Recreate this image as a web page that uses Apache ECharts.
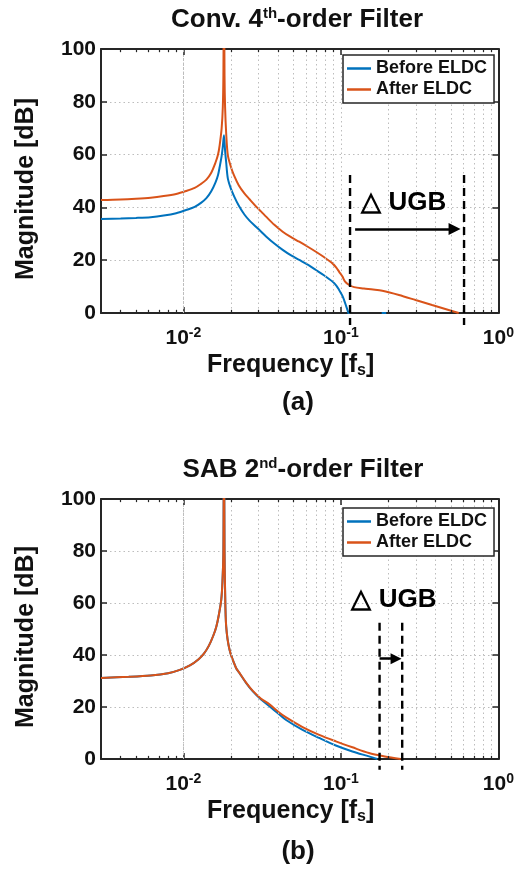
<!DOCTYPE html>
<html><head><meta charset="utf-8">
<script src="https://cdn.jsdelivr.net/npm/echarts@6/dist/echarts.min.js"></script>
<style>html,body{margin:0;padding:0;background:#fff}#c{width:517px;height:875px}</style>
</head><body><div id="c"></div>
<script>
const FONT = '"Liberation Sans", Arial, Helvetica, sans-serif';
const seriesNames = ['Before ELDC', 'After ELDC'];
const colors = ['#0072BD', '#D95319'];
const xRange = [0.003, 1];
const yRange = [0, 100];
const yStep = 20;
const minorX = [0.004,0.005,0.006,0.007,0.008,0.009,0.02,0.03,0.04,0.05,0.06,0.07,0.08,0.09,0.2,0.3,0.4,0.5,0.6,0.7,0.8,0.9];

// (a) Conv. 4th-order filter
const convBefore = [[0.003,35.6],[0.004,35.8],[0.005,36.0],[0.0062,36.3],[0.0075,36.9],[0.009,37.8],[0.0104,39.0],[0.0118,40.2],[0.013,41.8],[0.014,43.5],[0.015,46.0],[0.016,49.5],[0.0166,52.3],[0.017,55.3],[0.0175,59.5],[0.0178,63],[0.0181,67.3],[0.0184,61.5],[0.0187,57],[0.01915,51],[0.020,47.2],[0.021,44.2],[0.0225,40.6],[0.0244,37.3],[0.0263,35.0],[0.029,32.6],[0.0312,30.8],[0.0335,29.0],[0.0378,26.3],[0.0427,23.9],[0.048,21.9],[0.0544,20.1],[0.062,18.2],[0.0694,16.3],[0.078,14.3],[0.0884,11.9],[0.0935,10.4],[0.0975,8.7],[0.1023,6.5],[0.1048,4.9],[0.108,2.6],[0.1116,0],[0.113,-1.5],[0.15,'-'],[0.1815,0],[0.194,0]];
const convAfter = [[0.003,42.8],[0.004,43.0],[0.005,43.3],[0.0062,43.7],[0.0075,44.3],[0.009,45.1],[0.0104,46.2],[0.0118,47.4],[0.013,49.0],[0.014,50.5],[0.015,53],[0.016,57],[0.0166,60],[0.017,63.6],[0.0175,70],[0.0178,78],[0.01795,90],[0.0181,130],[0.01825,90],[0.0184,78],[0.0187,68],[0.01915,59.8],[0.020,55.5],[0.021,52],[0.0225,48.3],[0.0244,45.3],[0.0263,43.1],[0.029,40.3],[0.0312,38.4],[0.0335,36.5],[0.0378,33.4],[0.0427,30.8],[0.048,28.8],[0.0544,27.0],[0.062,25.0],[0.0694,23.2],[0.078,21.2],[0.0884,18.8],[0.0935,17.2],[0.0975,15.6],[0.1023,13.8],[0.106,12.0],[0.1127,10.6],[0.1213,9.8],[0.14,9.3],[0.16,8.9],[0.1831,8.4],[0.2336,6.8],[0.298,4.9],[0.379,3.0],[0.46,1.5],[0.5595,0]];
const convUGB = [0.1143, 0.605];
const convUGBSpan = [52.3, -4.5];
const convArrow = [[0.1231, 31.8], [0.5265, 31.8]];
const convLabelAt = [0.251, 41.7];

// (b) SAB 2nd-order filter
const sabBefore = [[0.003,31.2],[0.0045,31.6],[0.0062,32.1],[0.008,33.0],[0.0095,34.3],[0.011,36.0],[0.0125,38.4],[0.0135,40.5],[0.0145,43.5],[0.0155,47.5],[0.0162,51],[0.0168,55.5],[0.0174,61.3],[0.0177,68],[0.01795,80],[0.0181,130],[0.01825,80],[0.0184,65],[0.0187,51],[0.01964,42],[0.0216,35],[0.0227,33.1],[0.025,29.3],[0.0276,26.0],[0.031,23.0],[0.0352,20.3],[0.040,17.5],[0.0449,15.0],[0.0571,11.2],[0.0728,8.1],[0.0929,5.2],[0.1183,2.9],[0.1508,1.0],[0.1702,0]];
const sabAfter = [[0.003,31.2],[0.0045,31.6],[0.0062,32.1],[0.008,33.0],[0.0095,34.3],[0.011,36.0],[0.0125,38.4],[0.0135,40.5],[0.0145,43.5],[0.0155,47.5],[0.0162,51],[0.0168,55.5],[0.0174,61.3],[0.0177,68],[0.01795,80],[0.0181,130],[0.01825,80],[0.0184,65],[0.0187,51],[0.01964,42],[0.0216,35],[0.0227,33.1],[0.025,29.4],[0.0276,26.2],[0.031,23.3],[0.0352,21.0],[0.040,18.2],[0.0449,16.0],[0.0571,12.3],[0.0728,9.3],[0.0929,6.8],[0.1183,4.5],[0.1508,2.3],[0.19,1.0],[0.2393,0]];
const sabUGB = [0.176, 0.245];
const sabUGBSpan = [52.4, -4.1];
const sabArrow = [[0.176, 38.6], [0.224, 38.6]];
const sabLabelAt = [0.2172, 61.3];

const AX = '#262626', GRID = '#bdbdbd', TXT = '#111';

function xFmt(v) {
  const l = Math.log10(v), e = Math.round(l);
  if (Math.abs(l - e) > 1e-6) return '';
  return '{b|10}{s|' + e + '}';
}
function xAxes(gi) {
  const common = {type:'log', logBase:10, gridIndex:gi, min:xRange[0], max:xRange[1]};
  return [
    Object.assign({}, common, {position:'bottom',
      axisLine:{show:true, onZero:false, lineStyle:{color:AX, width:2}},
      axisTick:{show:true, inside:true, length:6, lineStyle:{color:AX, width:1.5}},
      axisLabel:{show:true, margin:13, formatter:xFmt, showMinLabel:false,
        rich:{b:{fontFamily:FONT, fontSize:21, fontWeight:'bold', color:TXT, lineHeight:24},
              s:{fontFamily:FONT, fontSize:14, fontWeight:'bold', color:TXT, lineHeight:14, verticalAlign:'top'}}},
      splitLine:{show:true, lineStyle:{color:GRID, type:[1.5,3], width:1}},
      name:'{a|Frequency [f}{sub|s}{a|]}', nameLocation:'middle', nameGap:38,
      nameTextStyle:{padding:[0,18,0,0], rich:{a:{fontFamily:FONT, fontSize:25, fontWeight:'bold', color:TXT, lineHeight:28},
                           sub:{fontFamily:FONT, fontSize:16, fontWeight:'bold', color:TXT, lineHeight:16, verticalAlign:'bottom'}}}
    }),
    Object.assign({}, common, {position:'top',
      axisLine:{show:true, onZero:false, lineStyle:{color:AX, width:2}},
      axisTick:{show:true, inside:true, length:6, lineStyle:{color:AX, width:1.5}},
      axisLabel:{show:false}, splitLine:{show:false}})
  ];
}
function yAxes(gi) {
  const common = {type:'value', gridIndex:gi, min:yRange[0], max:yRange[1], interval:yStep};
  return [
    Object.assign({}, common, {position:'left',
      axisLine:{show:true, onZero:false, lineStyle:{color:AX, width:2}},
      axisTick:{show:true, inside:true, length:6, lineStyle:{color:AX, width:1.5}},
      axisLabel:{show:true, margin:5, fontFamily:FONT, fontSize:21, fontWeight:'bold', color:TXT},
      splitLine:{show:true, lineStyle:{color:GRID, type:[1.5,3], width:1}},
      name:'Magnitude [dB]', nameLocation:'middle', nameGap:62, nameRotate:90,
      nameTextStyle:{fontFamily:FONT, fontSize:25, fontWeight:'bold', color:TXT, padding:[0,16,0,0]}
    }),
    Object.assign({}, common, {position:'right',
      axisLine:{show:true, onZero:false, lineStyle:{color:AX, width:2}},
      axisTick:{show:true, inside:true, length:6, lineStyle:{color:AX, width:1.5}},
      axisLabel:{show:false}, splitLine:{show:false}})
  ];
}
function panelSeries(xi, yi, before, after, ugb, span, arrow, labelAt, arrowSize) {
  const ticks = [];
  minorX.forEach(v => {
    ticks.push([{coord:[v, yRange[0]]}, {coord:[v, 1.2]}]);
    ticks.push([{coord:[v, yRange[1]]}, {coord:[v, 98.8]}]);
  });
  const base = {type:'line', xAxisIndex:xi, yAxisIndex:yi, symbol:'none', showSymbol:false, silent:true, animation:false};
  const dashed = ugb.map(x => Object.assign({}, base, {
    data:[[x, span[0]], [x, span[1]]], clip:false, z:6,
    lineStyle:{color:'#000', width:2.4, type:[8,5]}
  }));
  dashed[0].markLine = {silent:true, symbol:['none','triangle'], symbolSize:arrowSize, animation:false,
    label:{show:false}, lineStyle:{color:'#000', width:2.5, type:'solid'},
    data:[[{coord:arrow[0]}, {coord:arrow[1]}]]};
  dashed[0].markPoint = {silent:true, symbol:'circle', symbolSize:1, animation:false,
    itemStyle:{color:'rgba(0,0,0,0)'},
    label:{show:true, position:'inside', formatter:'△ UGB', fontFamily:FONT, fontSize:26, fontWeight:'bold', color:'#000'},
    data:[{coord:labelAt}]};
  const curve = {smooth:0.3, z:3};
  return [
    Object.assign({}, base, {data:[], z:1, markLine:{silent:true, symbol:['none','none'], animation:false,
      label:{show:false}, lineStyle:{color:GRID, type:[1.5,3], width:1}, data:minorX.map(v => ({xAxis:v}))}}),
    Object.assign({}, base, {data:[], z:1, markLine:{silent:true, symbol:['none','none'], animation:false,
      label:{show:false}, lineStyle:{color:AX, type:'solid', width:1.2}, data:ticks}}),
    Object.assign({}, base, curve, {name:seriesNames[0], data:before, lineStyle:{color:colors[0], width:2}, itemStyle:{color:colors[0]}}),
    Object.assign({}, base, curve, {name:seriesNames[1], data:after, z:4, lineStyle:{color:colors[1], width:2}, itemStyle:{color:colors[1]}})
  ].concat(dashed);
}
function legend(top) {
  return {data:seriesNames, left:343, top:top, orient:'vertical', icon:'rect', itemWidth:24, itemHeight:2.5, itemGap:0,
    padding:[3,7,3,4], borderColor:AX, borderWidth:1.5, backgroundColor:'#fff', z:10, selectedMode:false,
    textStyle:{fontFamily:FONT, fontSize:18, fontWeight:'bold', color:TXT, lineHeight:21}};
}
function title(text, rich, x, top) {
  return {text:text, left:x, top:top, textAlign:'center', padding:0,
    textStyle:{fontFamily:FONT, fontSize:26, fontWeight:'bold', color:TXT, lineHeight:28, rich:rich}};
}
const titleRich = {a:{fontFamily:FONT, fontSize:26, fontWeight:'bold', color:TXT, lineHeight:28},
                   s:{fontFamily:FONT, fontSize:15, fontWeight:'bold', color:TXT, lineHeight:14, verticalAlign:'top'}};

const chart = echarts.init(document.getElementById('c'), null, {renderer:'canvas'});
chart.setOption({
  animation:false,
  backgroundColor:'#fff',
  title:[
    title('{a|Conv. 4}{s|th}{a|-order Filter}', titleRich, 297, 6),
    title('(a)', null, 298, 389),
    title('{a|SAB 2}{s|nd}{a|-order Filter}', titleRich, 303, 456),
    title('(b)', null, 298, 838)
  ],
  legend:[legend(55), legend(508)],
  grid:[{left:101, top:49, width:399, height:264}, {left:101, top:499, width:399, height:260}],
  xAxis: xAxes(0).concat(xAxes(1)),
  yAxis: yAxes(0).concat(yAxes(1)),
  series: panelSeries(0, 0, convBefore, convAfter, convUGB, convUGBSpan, convArrow, convLabelAt, 12)
    .concat(panelSeries(2, 2, sabBefore, sabAfter, sabUGB, sabUGBSpan, sabArrow, sabLabelAt, 11))
});
</script></body></html>
